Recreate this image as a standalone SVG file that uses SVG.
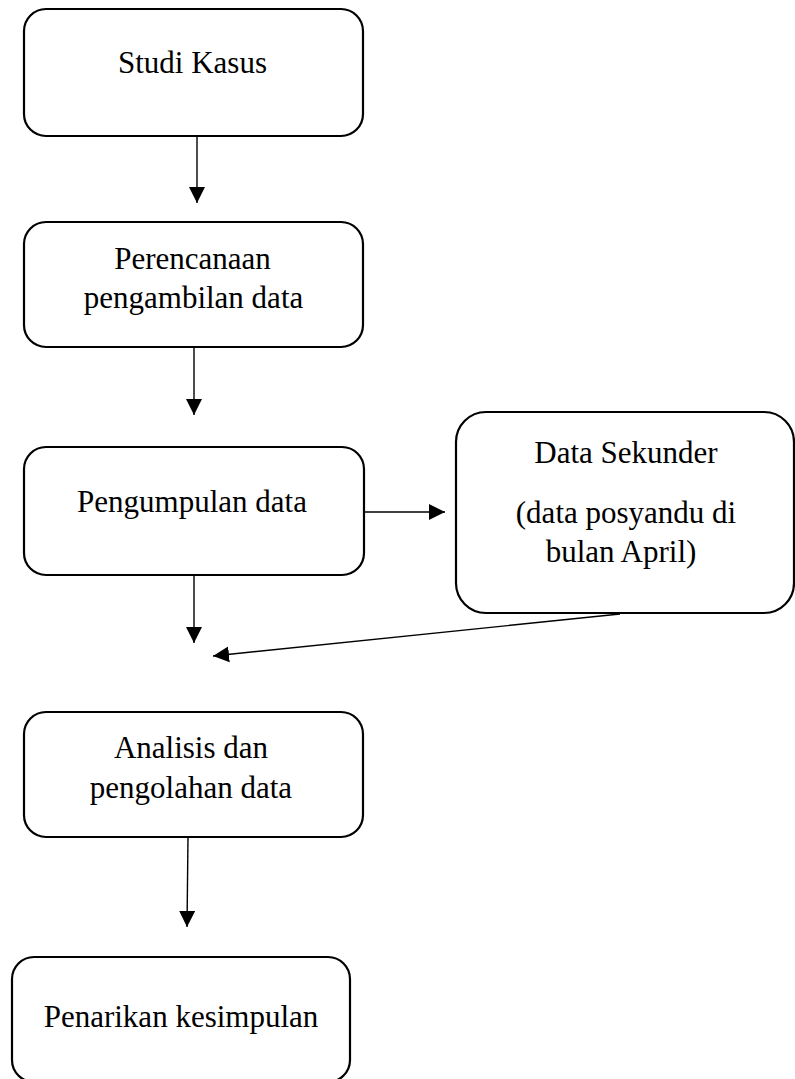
<svg xmlns="http://www.w3.org/2000/svg" width="795" height="1079" viewBox="0 0 795 1079">
<style>
.box{fill:#fff;stroke:#000;stroke-width:2.2}
.t{font-family:"Liberation Serif","Times New Roman",serif;font-size:31px;fill:#000;text-anchor:middle}
.c{stroke:#000;stroke-width:1.4;fill:none;marker-end:url(#ah)}
</style>
<defs>
<marker id="ah" markerUnits="userSpaceOnUse" markerWidth="17" markerHeight="17" refX="16" refY="8" orient="auto" viewBox="0 0 17 16">
<path d="M0,0 L16,8 L0,16 Z" fill="#000"/>
</marker>
</defs>
<rect width="795" height="1079" fill="#fff"/>
<g id="n1"><rect class="box" x="24" y="9" width="339" height="127" rx="22"/><text class="t" x="192.5" y="73">Studi Kasus</text></g>
<g id="n2"><rect class="box" x="24" y="222" width="339" height="125" rx="22"/><text class="t" x="192.5" y="269">Perencanaan</text><text class="t" x="193.5" y="308">pengambilan data</text></g>
<g id="n3"><rect class="box" x="24" y="447" width="340" height="128" rx="22"/><text class="t" x="192" y="512">Pengumpulan data</text></g>
<g id="n4"><rect class="box" x="456" y="412" width="338" height="201" rx="30"/><text class="t" x="626" y="463">Data Sekunder</text><text class="t" x="626" y="523">(data posyandu di</text><text class="t" x="621" y="562">bulan April)</text></g>
<g id="n5"><rect class="box" x="24" y="712" width="339" height="125" rx="22"/><text class="t" x="191" y="758">Analisis dan</text><text class="t" x="191" y="798">pengolahan data</text></g>
<g id="n6"><rect class="box" x="12" y="957" width="338" height="125" rx="22"/><text class="t" x="181" y="1027">Penarikan kesimpulan</text></g>
<g id="connectors">
<line class="c" x1="197" y1="136" x2="197" y2="203"/>
<line class="c" x1="194" y1="347" x2="194" y2="415"/>
<line class="c" x1="365" y1="512" x2="445" y2="512"/>
<line class="c" x1="194" y1="575" x2="194" y2="643"/>
<line class="c" x1="620" y1="614" x2="213" y2="656"/>
<line class="c" x1="188" y1="837" x2="187" y2="927"/>
</g>
</svg>
